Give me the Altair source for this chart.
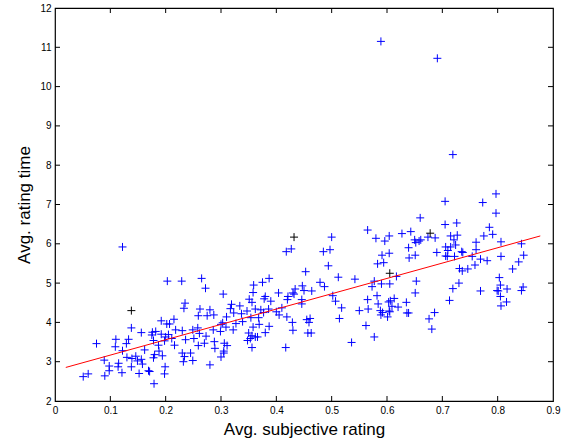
import altair as alt
import pandas as pd

# ---- data ----
blue_x = [
    0.122, 0.203, 0.229, 0.265, 0.272, 0.304, 0.235, 0.233, 0.262, 0.280, 0.259, 0.275, 0.287, 0.215, 0.192,
    0.202, 0.207, 0.138, 0.156, 0.176, 0.182, 0.192, 0.205, 0.218, 0.230, 0.249, 0.258, 0.261, 0.273, 0.286,
    0.303, 0.299, 0.110, 0.129, 0.133, 0.075, 0.109, 0.175, 0.178, 0.187, 0.200, 0.198, 0.211, 0.216, 0.236,
    0.251, 0.259, 0.270, 0.288, 0.289, 0.306, 0.122, 0.130, 0.139, 0.146, 0.156, 0.149, 0.138, 0.158, 0.115,
    0.114, 0.098, 0.098, 0.089, 0.090, 0.060, 0.051, 0.121, 0.152, 0.169, 0.171, 0.179, 0.199, 0.198, 0.178,
    0.180, 0.188, 0.194, 0.230, 0.232, 0.234, 0.249, 0.245, 0.280, 0.300, 0.305, 0.162,
    0.418, 0.427, 0.485, 0.497, 0.494, 0.453, 0.512, 0.542, 0.591, 0.583, 0.594, 0.577, 0.590, 0.573, 0.582,
    0.565, 0.566, 0.550, 0.584, 0.588, 0.592, 0.589, 0.601, 0.562, 0.577, 0.536, 0.502, 0.507, 0.518, 0.514,
    0.479, 0.487, 0.464, 0.450, 0.447, 0.434, 0.430, 0.432, 0.420, 0.421, 0.446, 0.446, 0.455, 0.461, 0.459,
    0.457, 0.463, 0.429, 0.430, 0.419, 0.417, 0.404, 0.387, 0.375, 0.359, 0.358, 0.356, 0.351, 0.380, 0.378,
    0.390, 0.362, 0.372, 0.377, 0.386, 0.400, 0.405, 0.410, 0.319, 0.317, 0.323, 0.334, 0.337, 0.347, 0.354,
    0.368, 0.339, 0.327, 0.310, 0.300, 0.309, 0.322, 0.358, 0.356, 0.369, 0.387, 0.380, 0.350, 0.348, 0.353,
    0.356, 0.362, 0.366, 0.311, 0.305,
    0.639, 0.652, 0.658, 0.604, 0.640, 0.651, 0.690, 0.706, 0.710, 0.715, 0.724, 0.706, 0.709, 0.722, 0.735,
    0.737, 0.754, 0.761, 0.761, 0.769, 0.781, 0.806, 0.806, 0.843, 0.847, 0.838, 0.759, 0.731, 0.736, 0.746,
    0.827, 0.617, 0.605, 0.653, 0.651, 0.730, 0.719, 0.713, 0.769, 0.803, 0.805, 0.801, 0.799, 0.805, 0.817,
    0.816, 0.806, 0.846, 0.843, 0.613, 0.603, 0.606, 0.635, 0.609, 0.620, 0.604, 0.605, 0.636, 0.639, 0.686,
    0.676, 0.681,
    0.797, 0.705, 0.773, 0.797, 0.660, 0.705, 0.726, 0.785, 0.775, 0.791, 0.674, 0.687, 0.643, 0.627, 0.604,
    0.596, 0.580, 0.650, 0.661, 0.715, 0.727, 0.721,
    0.719, 0.500, 0.565, 0.589, 0.691,
]
blue_y = [
    5.92, 5.05, 5.05, 5.12, 4.87, 4.72, 4.49, 4.36, 4.34, 4.32, 4.17, 4.17, 4.19, 4.08, 4.04,
    3.96, 3.96, 3.86, 3.74, 3.75, 3.77, 3.70, 3.69, 3.81, 3.79, 3.81, 3.86, 3.72, 3.65, 3.81,
    3.99, 3.77, 3.57, 3.46, 3.57, 3.46, 3.38, 3.68, 3.54, 3.42, 3.63, 3.53, 3.59, 3.42, 3.56,
    3.59, 3.41, 3.47, 3.51, 3.34, 3.47, 3.28, 3.11, 3.08, 3.14, 3.06, 3.02, 2.87, 2.94, 2.96,
    2.87, 2.89, 2.77, 3.04, 2.64, 2.69, 2.62, 2.72, 2.70, 2.77, 2.75, 2.44, 2.87, 2.69, 3.10,
    3.18, 3.27, 3.15, 3.22, 3.00, 3.13, 3.03, 3.22, 2.92, 3.12, 3.27, 3.30,
    5.80, 5.87, 5.80, 5.85, 5.44, 5.29, 5.15, 5.10, 5.71, 5.49, 5.52, 5.05, 4.98, 4.91, 4.68,
    4.58, 4.34, 4.30, 4.47, 4.30, 4.25, 4.19, 4.14, 3.92, 3.63, 3.49, 4.68, 4.54, 4.37, 4.10,
    5.02, 4.91, 4.80, 4.81, 4.93, 4.85, 4.75, 4.72, 4.58, 4.66, 4.58, 4.47, 4.07, 4.10, 4.00,
    3.73, 3.73, 4.00, 3.80, 4.14, 3.36, 4.75, 5.12, 5.02, 4.95, 4.76, 4.51, 4.59, 4.66, 4.60,
    4.54, 4.34, 4.32, 4.25, 4.34, 4.27, 4.19, 4.37, 4.46, 4.35, 4.24, 4.42, 4.22, 4.29, 4.12,
    4.12, 4.02, 3.97, 4.14, 3.95, 3.88, 3.81, 3.88, 3.66, 3.95, 3.90, 3.74, 3.73, 3.54, 3.59,
    3.36, 3.63, 3.63, 3.41, 3.22,
    5.90, 6.03, 6.07, 5.76, 5.64, 5.71, 5.78, 5.92, 5.83, 5.92, 5.97, 5.69, 5.68, 5.68, 5.80,
    5.78, 5.68, 5.85, 6.04, 5.61, 5.57, 6.05, 5.68, 6.00, 5.71, 5.54, 5.46, 5.37, 5.31, 5.36,
    5.36, 5.17, 4.98, 5.05, 4.75, 5.00, 4.86, 4.56, 4.80, 5.14, 4.95, 4.80, 4.81, 4.66, 4.85,
    4.52, 4.42, 4.90, 4.81, 4.61, 4.52, 4.55, 4.51, 4.41, 4.39, 4.29, 4.27, 4.24, 4.24, 4.25,
    4.09, 3.83,
    7.27, 7.08, 7.05, 6.78, 6.66, 6.49, 6.53, 6.42, 6.20, 6.24, 6.17, 6.15, 6.31, 6.26, 6.20,
    6.07, 6.14, 6.10, 6.10, 6.20, 6.22, 6.10,
    8.27, 6.17, 6.35, 11.15, 10.72,
]
black_x = [0.138, 0.432, 0.678, 0.605]
black_y = [4.30, 6.17, 6.27, 5.25]

fit_x = [0.0195, 0.877]
fit_y = [2.854, 6.20]

x_ticks = [0, 0.1, 0.2, 0.3, 0.4, 0.5, 0.6, 0.7, 0.8, 0.9]
y_ticks = [2, 3, 4, 5, 6, 7, 8, 9, 10, 11, 12]
x_inner = x_ticks[1:-1]
y_inner = y_ticks[1:-1]

W, H = 498, 393
FONT = "Liberation Sans"

pts = pd.DataFrame({"x": blue_x, "y": blue_y})
blk = pd.DataFrame({"x": black_x, "y": black_y})
fit = pd.DataFrame({"x": fit_x, "y": fit_y})
xt = pd.DataFrame({"x": x_inner})
yt = pd.DataFrame({"y": y_inner})

xscale = alt.Scale(domain=[0, 0.9], nice=False, zero=False)
yscale = alt.Scale(domain=[2, 12], nice=False, zero=False)

xaxis = alt.Axis(values=x_ticks, format="~g", ticks=False, domain=False, grid=False,
                 labelFlush=False, labelPadding=4, labelFontSize=10, labelColor="black",
                 labelFont=FONT, title="Avg. subjective rating", titleFont=FONT,
                 titleFontSize=17, titleFontWeight="normal", titleColor="black", titlePadding=6)
yaxis = alt.Axis(values=y_ticks, format="~g", ticks=False, domain=False, grid=False,
                 labelFlush=False, labelPadding=4, labelFontSize=10, labelColor="black",
                 labelFont=FONT, title="Avg. rating time", titleFont=FONT,
                 titleFontSize=17, titleFontWeight="normal", titleColor="black", titlePadding=6)

X = alt.X("x:Q", scale=xscale, axis=xaxis)
Y = alt.Y("y:Q", scale=yscale, axis=yaxis)

plus = "M-1,0L1,0M0,-1L0,1"

blue = alt.Chart(pts).mark_point(shape=plus, filled=False, size=64, strokeWidth=1,
                                 color="#0000ff", opacity=1).encode(x=X, y=Y)
black = alt.Chart(blk).mark_point(shape=plus, filled=False, size=64, strokeWidth=1,
                                  color="#000000", opacity=1).encode(x=X, y=Y)
line = alt.Chart(fit).mark_line(color="#ff0000", strokeWidth=1).encode(x=X, y=Y)

tk = dict(color="black", strokeWidth=1)
xb = alt.Chart(xt).mark_rule(**tk).encode(x=X, y=alt.value(H), y2=alt.value(H - 5))
xtop = alt.Chart(xt).mark_rule(**tk).encode(x=X, y=alt.value(0), y2=alt.value(5))
yl = alt.Chart(yt).mark_rule(**tk).encode(y=Y, x=alt.value(0), x2=alt.value(5))
yr = alt.Chart(yt).mark_rule(**tk).encode(y=Y, x=alt.value(W), x2=alt.value(W - 5))

chart = alt.layer(xb, xtop, yl, yr, blue, black, line).properties(
    width=W, height=H,
    autosize=alt.AutoSizeParams(type="none"),
    padding={"left": 55, "top": 8, "right": 13, "bottom": 42},
    background="white",
).configure_view(stroke="black", strokeWidth=1.2)

chart.save("out.html", embed_options={"renderer": "svg", "actions": False})
